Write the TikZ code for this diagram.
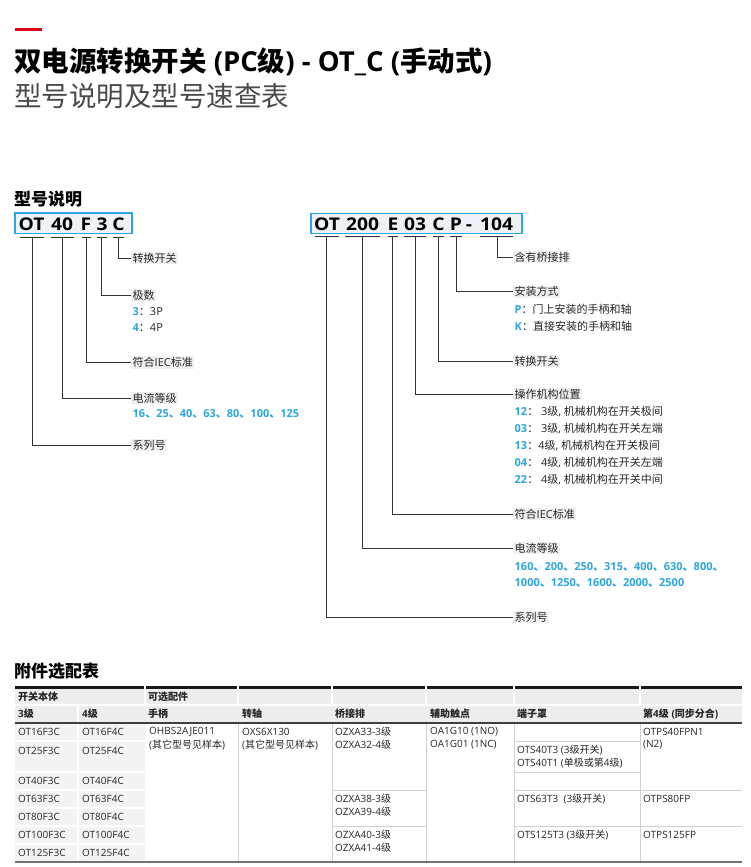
\documentclass[tikz,border=0pt]{standalone}
\usepackage{fontspec}
\setmainfont{Open Sans}
\newfontfamily\cjkfont{Noto Sans CJK SC}
\XeTeXinterchartokenstate=1
\newXeTeXintercharclass\cjkcls
\makeatletter
\count@="4E00
\loop\XeTeXcharclass\count@=\cjkcls\ifnum\count@<"9FFF\advance\count@\@ne\repeat
\count@="3000
\loop\XeTeXcharclass\count@=\cjkcls\ifnum\count@<"303F\advance\count@\@ne\repeat
\count@="FF00
\loop\XeTeXcharclass\count@=\cjkcls\ifnum\count@<"FFEF\advance\count@\@ne\repeat
\makeatother
\XeTeXinterchartoks 0 \cjkcls = {\cjkfont}
\XeTeXinterchartoks 4095 \cjkcls = {\cjkfont}
\XeTeXinterchartoks \cjkcls 0 = {\rmfamily}
\XeTeXinterchartoks \cjkcls 4095 = {\rmfamily}

\definecolor{ablue}{HTML}{2DA5DF}
\definecolor{boxfill}{HTML}{EEF2F6}
\definecolor{lc}{HTML}{333333}
\definecolor{abbred}{HTML}{E2001A}
\definecolor{hl}{HTML}{F0F0F0}
\definecolor{subgray}{HTML}{4A4A4A}
\definecolor{hdr}{HTML}{EDEDED}
\definecolor{bodyg}{HTML}{F3F3F3}
\definecolor{tgl}{HTML}{D2D2D2}

\newcommand\bn[1]{\textcolor{ablue}{\bfseries #1}}

\tikzset{
  lbl/.style={anchor=west, fill=hl, inner xsep=1.5pt, inner ysep=1pt, font=\fontsize{11}{13}\selectfont, text=black!85},
  subl/.style={anchor=west, inner sep=0pt, font=\fontsize{11}{13}\selectfont, text=black!85},
  conn/.style={draw=lc, line width=0.9pt},
  codebox/.style={draw=ablue, fill=boxfill, line width=1.3pt, inner sep=0pt},
  codetxt/.style={font=\bfseries\fontsize{17.5}{20}\selectfont, inner sep=0pt, anchor=base},
  tcell/.style={anchor=west, inner sep=0pt, font=\fontsize{10}{12}\selectfont, text=black!85},
  thead/.style={tcell, font=\bfseries\fontsize{10}{12}\selectfont},
  tgline/.style={draw=tgl, line width=1pt},
  twline/.style={draw=white, line width=1.5pt},
}
\newcommand\cseg[3]{\node[codetxt] (#1) at (#2,230.3) {\scalebox{1.1}[1]{#3}};}

\begin{document}
\begin{tikzpicture}[x=1pt,y=-1pt]
\useasboundingbox[fill=white] (0,0) rectangle (750,867);

% ---------- title ----------
\draw[abbred, line width=3pt] (15,30) -- (42,30);
\node[anchor=west, inner sep=0pt, font=\bfseries\fontsize{27.5}{32}\selectfont] (title) at (14,62) {双电源转换开关 (PC级) - OT\_C (手动式)};
\node[anchor=west, inner sep=0pt, font=\fontsize{27.5}{32}\selectfont, text=subgray] (subtitle) at (14,96) {型号说明及型号速查表};

\node[anchor=west, inner sep=0pt, font=\bfseries\fontsize{17}{20}\selectfont] (h1) at (14,199) {型号说明};

% ---------- left code ----------
\node[codebox, minimum width=117pt, minimum height=20.5pt] (boxL) at (73.5,223.25) {};
\cseg{lOT}{31.5}{OT}
\cseg{l40}{62}{40}
\cseg{lF}{86}{F}
\cseg{l3}{102}{3}
\cseg{lC}{118.5}{C}

\coordinate (uLOT) at (32.5,237.5);
\coordinate (uL40) at (62,237.5);
\coordinate (uLF) at (86,237.5);
\coordinate (uL3) at (101.8,237.5);
\coordinate (uLC) at (118.5,237.5);

\node[lbl] (aC) at (131,258) {转换开关};
\node[lbl] (a3) at (131,295) {极数};
\node[subl] (a3a) at (132.5,312) {\bn{3}：3P};
\node[subl] (a3b) at (132.5,328) {\bn{4}：4P};
\node[lbl] (aF) at (131,362.5) {符合IEC标准};
\node[lbl] (a40) at (131,398) {电流等级};
\node[subl] (a40a) at (132.5,414) {\bn{16、25、40、63、80、100、125}};
\node[lbl] (aOT) at (131,445) {系列号};

\draw[conn] ([xshift=-12.5pt]uLOT) -- ([xshift=11.5pt]uLOT);
\draw[conn] ([xshift=-11.5pt]uL40) -- ([xshift=11.5pt]uL40);
\draw[conn] ([xshift=-4.5pt]uLF) -- ([xshift=4.5pt]uLF);
\draw[conn] ([xshift=-5pt]uL3) -- ([xshift=5pt]uL3);
\draw[conn] ([xshift=-5.5pt]uLC) -- ([xshift=5.5pt]uLC);
\draw[conn] (uLC) |- (aC.west);
\draw[conn] (uL3) |- (a3.west);
\draw[conn] (uLF) |- (aF.west);
\draw[conn] (uL40) |- (a40.west);
\draw[conn] (uLOT) |- (aOT.west);

% ---------- right code ----------
\node[codebox, minimum width=211pt, minimum height=20pt] (boxR) at (416.5,223.5) {};
\cseg{rOT}{327}{OT}
\cseg{r200}{362.5}{200}
\cseg{rE}{393}{E}
\cseg{r03}{415}{03}
\cseg{rC}{438.5}{C}
\cseg{rP}{456}{P}
\cseg{rdash}{469}{-}
\cseg{r104}{496.5}{104}

\coordinate (uROT) at (326.7,236.5);
\coordinate (uR200) at (362.7,236.5);
\coordinate (uRE) at (392.7,236.5);
\coordinate (uR03) at (415,236.5);
\coordinate (uRC) at (438.3,236.5);
\coordinate (uRP) at (456,236.5);
\coordinate (uR104) at (497,236.5);

\node[lbl] (b104) at (513,257.3) {含有桥接排};
\node[lbl] (bP) at (513,291.7) {安装方式};
\node[subl] (bPa) at (514.5,309) {\bn{P}：门上安装的手柄和轴};
\node[subl] (bPb) at (514.5,326) {\bn{K}：直接安装的手柄和轴};
\node[lbl] (bC) at (513,361) {转换开关};
\node[lbl] (b03) at (513,394) {操作机构位置};
\node[subl] (b03a) at (514.5,411.7) {\bn{12}： 3级, 机械机构在开关极间};
\node[subl] (b03b) at (514.5,428.7) {\bn{03}： 3级, 机械机构在开关左端};
\node[subl] (b03c) at (514.5,446) {\bn{13}：4级, 机械机构在开关极间};
\node[subl] (b03d) at (514.5,463) {\bn{04}： 4级, 机械机构在开关左端};
\node[subl] (b03e) at (514.5,480) {\bn{22}： 4级, 机械机构在开关中间};
\node[lbl] (bE) at (513,514.3) {符合IEC标准};
\node[lbl] (b200) at (513,548.3) {电流等级};
\node[subl] (b200a) at (514.5,566.7) {\bn{160、200、250、315、400、630、800、}};
\node[subl] (b200b) at (514.5,583.3) {\bn{1000、1250、1600、2000、2500}};
\node[lbl] (bOT) at (513,617.3) {系列号};

\draw[conn] ([xshift=-12pt]uROT) -- ([xshift=12pt]uROT);
\draw[conn] ([xshift=-17.5pt]uR200) -- ([xshift=17.5pt]uR200);
\draw[conn] ([xshift=-5pt]uRE) -- ([xshift=5pt]uRE);
\draw[conn] ([xshift=-11pt]uR03) -- ([xshift=11pt]uR03);
\draw[conn] ([xshift=-5.5pt]uRC) -- ([xshift=5.5pt]uRC);
\draw[conn] ([xshift=-6pt]uRP) -- ([xshift=6pt]uRP);
\draw[conn] ([xshift=-17pt]uR104) -- ([xshift=16pt]uR104);
\draw[conn] (uR104) |- (b104.west);
\draw[conn] (uRP) |- (bP.west);
\draw[conn] (uRC) |- (bC.west);
\draw[conn] (uR03) |- (b03.west);
\draw[conn] (uRE) |- (bE.west);
\draw[conn] (uR200) |- (b200.west);
\draw[conn] (uROT) |- (bOT.west);

% ---------- table ----------
\node[anchor=west, inner sep=0pt, font=\bfseries\fontsize{17}{20}\selectfont] (h2) at (14,671) {附件选配表};

\fill[hdr] (15,687) rectangle (742,723);
\fill[bodyg] (15,723) rectangle (145,862);
\foreach \x in {238,332,426,514,640} \draw[tgline] (\x,723) -- (\x,862);
\foreach \y in {790,826} {\draw[tgline] (332,\y) -- (426,\y); \draw[tgline] (514,\y) -- (742,\y);}
\foreach \y in {741,772} \draw[tgline] (514,\y) -- (640,\y);
\foreach \y in {741,772,790,808,826,844} \draw[twline] (15,\y) -- (145,\y);
\draw[twline] (78,705) -- (78,862);
\draw[twline] (15,705) -- (742,705);
\draw[black!90, line width=3pt] (15,687) -- (742,687);
\foreach \x in {145,238,332,426,514,640} \draw[twline] (\x,685) -- (\x,704);
\draw[black!75, line width=2pt] (15,723) -- (742,723);
\draw[black!55, line width=2pt] (15,862) -- (742,862);

\node[thead] (th1) at (18,696.5) {开关本体};
\node[thead] (th2) at (148,696.5) {可选配件};
\node[thead] (th3) at (18,714) {3级};
\node[thead] (th4) at (82,714) {4级};
\node[thead] (th5) at (148,714) {手柄};
\node[thead] (th6) at (242,714) {转轴};
\node[thead] (th7) at (335,714) {桥接排};
\node[thead] (th8) at (430,714) {辅助触点};
\node[thead] (th9) at (517,714) {端子罩};
\node[thead] (th10) at (643,714) {第4级 (同步分合)};

\node[tcell] (c1a) at (18,732) {OT16F3C};
\node[tcell] (c1b) at (18,751) {OT25F3C};
\node[tcell] (c1c) at (18,781) {OT40F3C};
\node[tcell] (c1d) at (18,799) {OT63F3C};
\node[tcell] (c1e) at (18,817) {OT80F3C};
\node[tcell] (c1f) at (18,835) {OT100F3C};
\node[tcell] (c1g) at (18,853) {OT125F3C};
\node[tcell] (c2a) at (82,732) {OT16F4C};
\node[tcell] (c2b) at (82,751) {OT25F4C};
\node[tcell] (c2c) at (82,781) {OT40F4C};
\node[tcell] (c2d) at (82,799) {OT63F4C};
\node[tcell] (c2e) at (82,817) {OT80F4C};
\node[tcell] (c2f) at (82,835) {OT100F4C};
\node[tcell] (c2g) at (82,853) {OT125F4C};

\node[tcell] (c3a) at (149,732) {OHBS2AJE011};
\node[tcell] (c3b) at (149,745) {(其它型号见样本)};
\node[tcell] (c4a) at (242,732) {OXS6X130};
\node[tcell] (c4b) at (242,745) {(其它型号见样本)};
\node[tcell] (c5a) at (335,732) {OZXA33-3级};
\node[tcell] (c5b) at (335,745) {OZXA32-4级};
\node[tcell] (c5c) at (335,799) {OZXA38-3级};
\node[tcell] (c5d) at (335,811.5) {OZXA39-4级};
\node[tcell] (c5e) at (335,835) {OZXA40-3级};
\node[tcell] (c5f) at (335,847.5) {OZXA41-4级};
\node[tcell] (c6a) at (430,732) {OA1G10 (1NO)};
\node[tcell] (c6b) at (430,745) {OA1G01 (1NC)};
\node[tcell] (c7a) at (517,750) {OTS40T3 (3级开关)};
\node[tcell] (c7b) at (517,762.7) {OTS40T1 (单极或第4级)};
\node[tcell] (c7c) at (517,799) {OTS63T3\ \ (3级开关)};
\node[tcell] (c7d) at (517,835) {OTS125T3 (3级开关)};
\node[tcell] (c8a) at (643,732) {OTPS40FPN1};
\node[tcell] (c8b) at (643,745) {(N2)};
\node[tcell] (c8c) at (643,799) {OTPS80FP};
\node[tcell] (c8d) at (643,835) {OTPS125FP};
\end{tikzpicture}
\end{document}
